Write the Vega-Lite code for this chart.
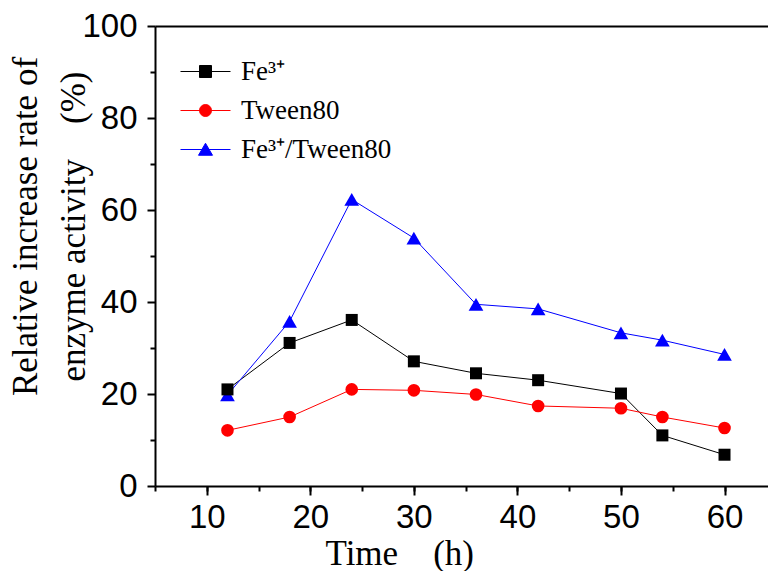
{
  "$schema": "https://vega.github.io/schema/vega-lite/v6.json",
  "width": 613,
  "height": 460,
  "autosize": {"type": "none"},
  "padding": {"left": 155, "top": 26, "right": 0, "bottom": 85},
  "background": "white",
  "config": {
    "view": {"stroke": null},
    "axis": {"grid": false, "domainColor": "black", "tickColor": "black", "domainWidth": 2, "tickWidth": 2, "labelColor": "black", "titleColor": "black"}
  },
  "data": {"values": [
    {"time": 12, "series": "Fe\u00b3\u207a", "value": 21.0},
    {"time": 18, "series": "Fe\u00b3\u207a", "value": 31.1},
    {"time": 24, "series": "Fe\u00b3\u207a", "value": 36.1},
    {"time": 30, "series": "Fe\u00b3\u207a", "value": 27.1},
    {"time": 36, "series": "Fe\u00b3\u207a", "value": 24.5},
    {"time": 42, "series": "Fe\u00b3\u207a", "value": 23.0},
    {"time": 50, "series": "Fe\u00b3\u207a", "value": 20.1},
    {"time": 54, "series": "Fe\u00b3\u207a", "value": 11.0},
    {"time": 60, "series": "Fe\u00b3\u207a", "value": 6.8},
    {"time": 12, "series": "Tween80", "value": 12.1},
    {"time": 18, "series": "Tween80", "value": 15.0},
    {"time": 24, "series": "Tween80", "value": 21.0},
    {"time": 30, "series": "Tween80", "value": 20.8},
    {"time": 36, "series": "Tween80", "value": 19.9},
    {"time": 42, "series": "Tween80", "value": 17.4},
    {"time": 50, "series": "Tween80", "value": 16.9},
    {"time": 54, "series": "Tween80", "value": 15.0},
    {"time": 60, "series": "Tween80", "value": 12.6},
    {"time": 12, "series": "Fe\u00b3\u207a/Tween80", "value": 19.8},
    {"time": 18, "series": "Fe\u00b3\u207a/Tween80", "value": 35.8},
    {"time": 24, "series": "Fe\u00b3\u207a/Tween80", "value": 62.3},
    {"time": 30, "series": "Fe\u00b3\u207a/Tween80", "value": 53.9},
    {"time": 36, "series": "Fe\u00b3\u207a/Tween80", "value": 39.5},
    {"time": 42, "series": "Fe\u00b3\u207a/Tween80", "value": 38.5},
    {"time": 50, "series": "Fe\u00b3\u207a/Tween80", "value": 33.3},
    {"time": 54, "series": "Fe\u00b3\u207a/Tween80", "value": 31.7},
    {"time": 60, "series": "Fe\u00b3\u207a/Tween80", "value": 28.6}
  ]},
  "resolve": {"scale": {"x": "shared", "y": "shared", "color": "shared"}, "axis": {"x": "independent", "y": "independent"}},
  "layer": [
    {
      "mark": {"type": "point", "opacity": 0},
      "encoding": {
        "x": {"field": "time", "type": "quantitative", "scale": {"domain": [5, 64.2], "nice": false, "zero": false},
          "axis": {"orient": "bottom", "values": [5, 10, 15, 20, 25, 30, 35, 40, 45, 50, 55, 60], "labels": false, "tickSize": 5, "domain": false, "title": null}},
        "y": {"field": "value", "type": "quantitative", "scale": {"domain": [0, 100], "nice": false, "zero": true},
          "axis": {"orient": "left", "values": [10, 30, 50, 70, 90], "labels": false, "tickSize": 5, "domain": false, "title": null}}
      }
    },
    {
      "mark": {"type": "point", "opacity": 0},
      "encoding": {
        "x": {"field": "time", "type": "quantitative",
          "axis": {"orient": "top", "labels": false, "ticks": false, "domain": true, "title": null}},
        "y": {"field": "value", "type": "quantitative",
          "axis": {"orient": "left", "values": [0, 20, 40, 60, 80, 100], "tickSize": 8, "labelPadding": 10, "labelFont": "Liberation Sans", "labelFontSize": 33, "labelBaseline": "middle",
            "title": ["Relative increase rate of", "enzyme activity\u00a0\u00a0\u00a0\u00a0(%)"],
            "titleFont": "Liberation Serif", "titleFontSize": 35, "titleFontWeight": "normal", "titleLineHeight": 48,
            "titleAngle": -90, "titleAlign": "center", "titleBaseline": "top", "titleX": -147, "titleY": 200}}
      }
    },
    {
      "mark": {"type": "line", "strokeWidth": 1},
      "encoding": {
        "x": {"field": "time", "type": "quantitative",
          "axis": {"orient": "bottom", "values": [10, 20, 30, 40, 50, 60], "tickSize": 9, "labelPadding": 32, "labelBaseline": "alphabetic", "labelFont": "Liberation Sans", "labelFontSize": 33,
            "title": "Time\u00a0\u00a0\u00a0\u00a0(h)", "titleFont": "Liberation Serif", "titleFontSize": 35, "titleFontWeight": "normal",
            "titleAlign": "left", "titleBaseline": "alphabetic", "titleX": 170, "titleY": 78}},
        "y": {"field": "value", "type": "quantitative", "axis": null},
        "color": {"field": "series", "type": "nominal",
          "scale": {"domain": ["Fe\u00b3\u207a", "Tween80", "Fe\u00b3\u207a/Tween80"], "range": ["#000000", "#ff0000", "#0000ff"]},
          "legend": {
            "orient": "none", "legendX": 25, "legendY": 20, "title": null, "padding": 0,
            "symbolType": "M-1,0L1,0", "symbolSize": 2500, "symbolStrokeWidth": 1, "labelFont": "Liberation Serif", "labelFontSize": 27, "labelColor": "black",
            "labelOffset": 10, "labelLimit": 0, "rowPadding": -1,
            "encode": {"symbols": {"update": {
              "shape": {"signal": "datum.index == 1 ? 'M-1,0L1,0M-0.24,0A0.24,0.24,0,1,1,0.24,0A0.24,0.24,0,1,1,-0.24,0Z' : (datum.index == 2 ? 'M-1,0L1,0M0,-0.25L0.28,0.23L-0.28,0.23Z' : 'M-1,0L1,0M-0.24,-0.24L0.24,-0.24L0.24,0.24L-0.24,0.24Z')"},
              "fill": {"signal": "datum.index == 1 ? '#ff0000' : (datum.index == 2 ? '#0000ff' : '#000000')"},
              "stroke": {"signal": "datum.index == 1 ? '#ff0000' : (datum.index == 2 ? '#0000ff' : '#000000')"},
              "strokeWidth": {"value": 1},
              "size": {"value": 2500},
              "opacity": {"value": 1}
            }}}
          }}
      }
    },
    {
      "transform": [{"filter": {"field": "series", "equal": "Tween80"}}],
      "mark": {"type": "point", "filled": true, "opacity": 1, "shape": "circle", "size": 160},
      "encoding": {
        "x": {"field": "time", "type": "quantitative", "axis": null},
        "y": {"field": "value", "type": "quantitative", "axis": null},
        "color": {"field": "series", "type": "nominal", "legend": null}
      }
    },
    {
      "transform": [{"filter": {"field": "series", "equal": "Fe\u00b3\u207a/Tween80"}}],
      "mark": {"type": "point", "filled": true, "opacity": 1, "shape": "triangle-up", "size": 215},
      "encoding": {
        "x": {"field": "time", "type": "quantitative", "axis": null},
        "y": {"field": "value", "type": "quantitative", "axis": null},
        "color": {"field": "series", "type": "nominal", "legend": null}
      }
    },
    {
      "transform": [{"filter": {"field": "series", "equal": "Fe\u00b3\u207a"}}],
      "mark": {"type": "point", "filled": true, "opacity": 1, "shape": "square", "size": 144},
      "encoding": {
        "x": {"field": "time", "type": "quantitative", "axis": null},
        "y": {"field": "value", "type": "quantitative", "axis": null},
        "color": {"field": "series", "type": "nominal", "legend": null}
      }
    }
  ]
}
